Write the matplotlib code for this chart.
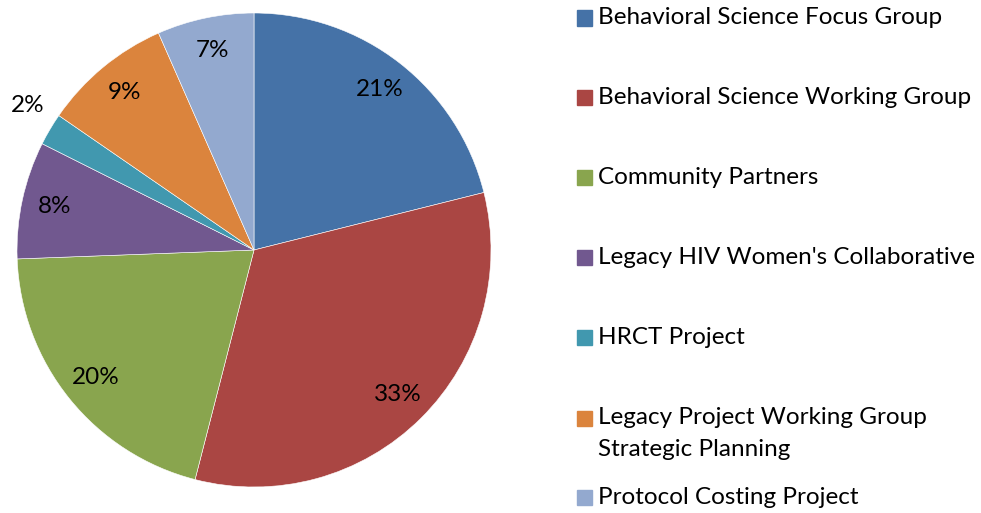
import matplotlib
matplotlib.use("Agg")
import numpy as np
import matplotlib.pyplot as plt
from matplotlib.patches import Rectangle

plt.rcParams['font.family'] = ['Lato', 'DejaVu Sans']

labels = [
    "Behavioral Science Focus Group",
    "Behavioral Science Working Group",
    "Community Partners",
    "Legacy HIV Women's Collaborative",
    "HRCT Project",
    "Legacy Project Working Group\nStrategic Planning",
    "Protocol Costing Project",
]
# shares (labels show rounded values)
shares = [21.1, 32.9, 20.4, 8.0, 2.2, 8.8, 6.6]
colors = ['#4572A7', '#AA4643', '#89A54E', '#71588F', '#4198AF', '#DB843D', '#93A9CF']

W, H = 981, 513
fig = plt.figure(figsize=(W / 100, H / 100), dpi=100)

# pie axes: centre ~(254,250) px, radius ~237 px
ax = fig.add_axes([17 / W, (H - 487) / H, 474 / W, 474 / H])
fs = 17.5
wedges, texts, autotexts = ax.pie(
    shares, colors=colors, startangle=90, counterclock=False,
    autopct='%.0f%%', pctdistance=0.86,
    wedgeprops=dict(linewidth=0.4, edgecolor='white'),
    textprops=dict(fontsize=fs, color='black'),
)
# small slice label sits outside the pie
w = wedges[4]
ang = np.deg2rad((w.theta1 + w.theta2) / 2 - 2)
autotexts[4].set_position((1.135 * np.cos(ang), 1.135 * np.sin(ang)))
ax.set_xlim(-1, 1)
ax.set_ylim(-1, 1)
ax.set_aspect('auto')

# legend drawn by hand so spacing matches
rows = [18, 97, 177, 257, 337, 418, 497]
for lab, col, y in zip(labels, colors, rows):
    fig.patches.append(Rectangle((577 / W, 1 - (y + 7.5) / H), 15 / W, 15 / H,
                                 transform=fig.transFigure, color=col))
    for k, line in enumerate(lab.split("\n")):
        fig.text(598 / W, 1 - (y + 31 * k) / H, line, fontsize=fs,
                 va='center', ha='left')

fig.savefig("out.png", dpi=100)
